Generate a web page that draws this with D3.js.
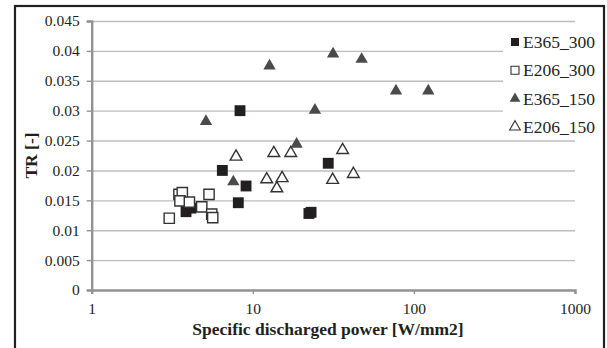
<!DOCTYPE html>
<html>
<head>
<meta charset="utf-8">
<script src="https://cdn.jsdelivr.net/npm/d3@7"></script>
<style>
  html, body { margin: 0; padding: 0; background: #fff; }
  svg { display: block; font-family: "Liberation Serif", "Times New Roman", serif; }
</style>
</head>
<body>
<svg id="chart" width="607" height="348"></svg>
<script>
// ---- data ----
const seriesNames = ["E365_300", "E206_300", "E365_150", "E206_150"];
const e365_300_x = [3.85, 4.13, 6.47, 8.33, 29.4, 9.08, 8.13, 22.3, 23.0];
const e365_300_y = [0.0131, 0.0137, 0.0200, 0.0300, 0.0212, 0.0174, 0.0146, 0.0128, 0.0130];
const e206_300_x = [3.48, 3.65, 3.53, 4.04, 4.82, 5.35, 3.03, 5.56, 5.64];
const e206_300_y = [0.0160, 0.0163, 0.0149, 0.0147, 0.0139, 0.0160, 0.0120, 0.0127, 0.0121];
const e365_150_x = [5.12, 12.7, 31.5, 47.4, 77.4, 122.8, 24.3, 18.7, 7.57];
const e365_150_y = [0.0282, 0.0375, 0.0395, 0.0386, 0.0333, 0.0333, 0.0301, 0.0244, 0.0181];
const e206_150_x = [7.87, 13.5, 17.2, 36.1, 12.2, 15.2, 14.1, 31.3, 42.1];
const e206_150_y = [0.0223, 0.0229, 0.0229, 0.0234, 0.0185, 0.0187, 0.0170, 0.0184, 0.0194];
const xTicks = [1, 10, 100, 1000];
const xTickLabels = ["1", "10", "100", "1000"];
const yTicks = [0, 0.005, 0.01, 0.015, 0.02, 0.025, 0.03, 0.035, 0.04, 0.045];
const yTickLabels = ["0", "0.005", "0.01", "0.015", "0.02", "0.025", "0.03", "0.035", "0.04", "0.045"];
const xTitle = "Specific discharged power [W/mm2]";
const yTitle = "TR [-]";

// ---- layout ----
const svg = d3.select("#chart");
const pL = 91.7, pR = 575, pT = 21, pB = 290;
const x = d3.scaleLog().domain([1, 1000]).range([pL, pR]);
const y = d3.scaleLinear().domain([0, 0.045]).range([pB, pT]);

// outer border
svg.append("rect").attr("x", 15).attr("y", 6).attr("width", 589).attr("height", 360)
  .attr("fill", "none").attr("stroke", "#231f20").attr("stroke-width", 2.2);

// gridlines
const grid = svg.append("g").attr("transform", `translate(${pL},0)`)
  .call(d3.axisLeft(y).tickValues(yTicks.slice(1)).tickSize(-(pR - pL)).tickFormat(""));
grid.select(".domain").remove();
grid.selectAll("line").attr("stroke", "#bdbdbd").attr("stroke-width", 1.4);

// y axis
const yAxis = svg.append("g").attr("transform", `translate(${pL},0)`)
  .call(d3.axisLeft(y).tickValues(yTicks).tickSize(5).tickPadding(7)
    .tickFormat((d, i) => yTickLabels[i]));
yAxis.select(".domain").attr("stroke", "#929292").attr("stroke-width", 2.4);
yAxis.selectAll("line").attr("stroke", "#929292").attr("stroke-width", 1.4);
yAxis.selectAll("text").attr("font-family", "Liberation Serif").attr("font-size", 15.5).attr("fill", "#231f20");

// x axis
const xAxis = svg.append("g").attr("transform", `translate(0,${pB})`)
  .call(d3.axisBottom(x).tickValues(xTicks).tickSize(4).tickPadding(9)
    .tickFormat((d, i) => xTickLabels[i]));
xAxis.select(".domain").attr("stroke", "#929292").attr("stroke-width", 2.4);
xAxis.selectAll("line").attr("stroke", "#929292").attr("stroke-width", 1.4);
xAxis.selectAll("text").attr("font-family", "Liberation Serif").attr("font-size", 15.5).attr("fill", "#231f20");

// axis titles
svg.append("text").attr("x", 328).attr("y", 335).attr("text-anchor", "middle")
  .attr("font-weight", "bold").attr("font-size", 17.5).attr("fill", "#231f20").text(xTitle);
svg.append("text").attr("transform", `translate(37,${(pT + pB) / 2}) rotate(-90)`)
  .attr("text-anchor", "middle").attr("font-weight", "bold").attr("font-size", 17.5)
  .attr("fill", "#231f20").text(yTitle);

// legend background
svg.append("rect").attr("x", 503).attr("y", 28).attr("width", 99).attr("height", 112).attr("fill", "#fff");

// series styles
const styles = [
  { xs: e365_300_x, ys: e365_300_y, type: d3.symbolSquare, size: 118, fill: "#231f20", stroke: "none" },
  { xs: e206_300_x, ys: e206_300_y, type: d3.symbolSquare, size: 105, fill: "#fff", stroke: "#333" },
  { xs: e365_150_x, ys: e365_150_y, type: d3.symbolTriangle, size: 66, fill: "#4a4a4a", stroke: "none" },
  { xs: e206_150_x, ys: e206_150_y, type: d3.symbolTriangle, size: 60, fill: "#fff", stroke: "#333" }
];

styles.forEach((s, si) => {
  const g = svg.append("g");
  g.selectAll("path").data(s.xs.map((v, i) => [v, s.ys[i]])).join("path")
    .attr("transform", d => `translate(${x(d[0])},${y(d[1])})`)
    .attr("d", d3.symbol().type(s.type).size(s.size))
    .attr("fill", s.fill).attr("stroke", s.stroke).attr("stroke-width", 1.4);

  // legend
  const ly = 42 + si * 28.3;
  svg.append("path").attr("transform", `translate(515,${ly})`)
    .attr("d", d3.symbol().type(s.type).size(s.type === d3.symbolSquare ? 64 : 50))
    .attr("fill", s.fill).attr("stroke", s.stroke).attr("stroke-width", 1.1);
  svg.append("text").attr("x", 523).attr("y", ly).attr("dy", "0.35em")
    .attr("font-size", 17.5).attr("fill", "#231f20").text(seriesNames[si]);
});
</script>
</body>
</html>
